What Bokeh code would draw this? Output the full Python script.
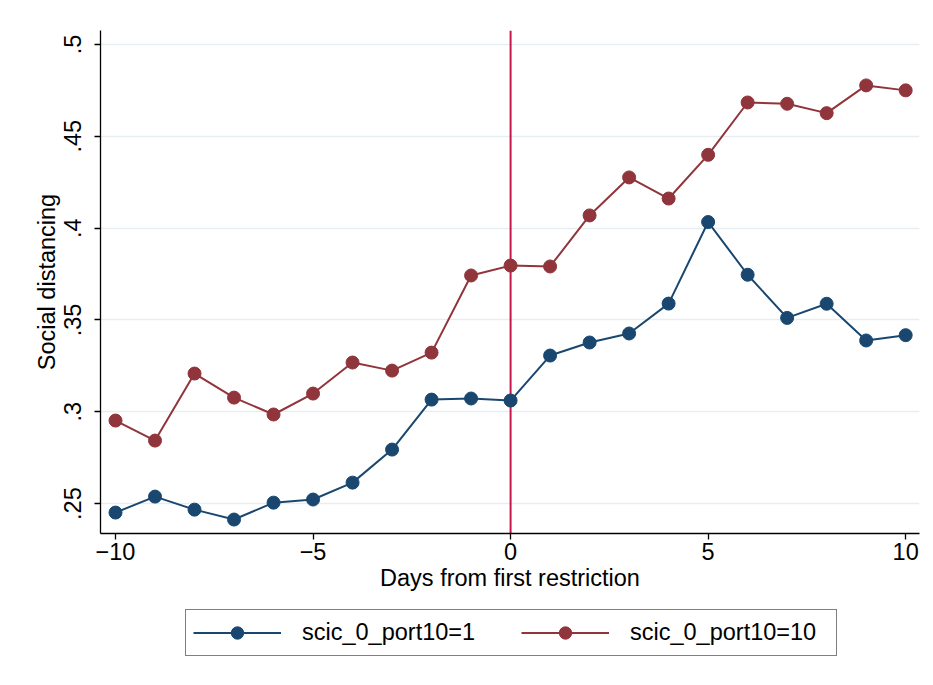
from bokeh.plotting import figure
from bokeh.layouts import column
from bokeh.models import Span, Legend, LegendItem, FixedTicker, Range1d
from bokeh.embed import file_html
from bokeh.resources import INLINE

days = list(range(-10, 11))
port1 = [0.2451, 0.2538, 0.2467, 0.2413, 0.2505, 0.2522, 0.2614, 0.2794, 0.3066, 0.3072, 0.3061,
         0.3306, 0.3377, 0.3426, 0.3589, 0.4033, 0.3746, 0.3511, 0.3588, 0.3388, 0.3417]
port10 = [0.2952, 0.2843, 0.3208, 0.3077, 0.2985, 0.3099, 0.3268, 0.3224, 0.3322, 0.3742, 0.3796,
          0.3791, 0.4069, 0.4276, 0.4161, 0.4399, 0.4684, 0.4677, 0.4626, 0.4777, 0.4750]
x_ticks = [-10, -5, 0, 5, 10]
x_tick_labels = ["\u221210", "\u22125", "0", "5", "10"]
y_ticks = [0.25, 0.3, 0.35, 0.4, 0.45, 0.5]
y_tick_labels = [".25", ".3", ".35", ".4", ".45", ".5"]
series_names = ["scic_0_port10=1", "scic_0_port10=10"]

FONT = "Liberation Sans"
FS = "23.5px"
NAVY = "#1a476f"
MAROON = "#90353b"

p = figure(width=925, height=600, output_backend="svg", toolbar_location=None,
           x_range=Range1d(-10.38, 10.35), y_range=Range1d(0.2337, 0.5076),
           min_border_left=100, min_border_top=30, min_border_right=6, min_border_bottom=67)
p.background_fill_color = "white"
p.border_fill_color = "white"
p.outline_line_color = None

p.xgrid.visible = False
p.ygrid.grid_line_color = "#e6eef1"
p.ygrid.grid_line_width = 1.5

for ax in (p.xaxis[0], p.yaxis[0]):
    ax.axis_line_color = "black"
    ax.axis_line_width = 1.3
    ax.major_tick_line_color = "black"
    ax.major_tick_line_width = 1.3
    ax.major_tick_out = 6
    ax.major_tick_in = 0
    ax.minor_tick_line_color = None
    ax.major_label_text_font = FONT
    ax.major_label_text_font_size = FS
    ax.major_label_text_color = "black"
    ax.axis_label_text_font = FONT
    ax.axis_label_text_font_size = FS
    ax.axis_label_text_font_style = "normal"
    ax.axis_label_text_color = "black"

p.xaxis.ticker = FixedTicker(ticks=x_ticks)
p.xaxis.major_label_overrides = {t: l for t, l in zip(x_ticks, x_tick_labels)}
p.xaxis.axis_label = "Days from first restriction"
p.xaxis.major_label_standoff = 3
p.xaxis.axis_label_standoff = 2

p.yaxis.ticker = FixedTicker(ticks=y_ticks)
p.yaxis.major_label_overrides = {t: l for t, l in zip(y_ticks, y_tick_labels)}
p.yaxis.major_label_orientation = "vertical"
p.yaxis.axis_label = "Social distancing"
p.yaxis.major_label_standoff = 13
p.yaxis.axis_label_standoff = 2

vline = Span(location=0, dimension="height", line_color="#c8174a", line_width=2, level="underlay")
p.add_layout(vline)

p.line(days, port1, line_color=NAVY, line_width=2)
p.scatter(days, port1, size=13, fill_color=NAVY, line_color=NAVY)
p.line(days, port10, line_color=MAROON, line_width=2)
p.scatter(days, port10, size=13, fill_color=MAROON, line_color=MAROON)

# legend panel below the plot (its renderers lie outside its visible range)
q = figure(width=925, height=77, output_backend="svg", toolbar_location=None,
           x_axis_type=None, y_axis_type=None, x_range=Range1d(100, 101), y_range=Range1d(100, 101),
           min_border_left=100, min_border_right=6, min_border_top=0, min_border_bottom=0)
q.outline_line_color = None
q.grid.visible = False
q.background_fill_color = "white"
q.border_fill_color = "white"
kl1 = q.line(days, port1, line_color=NAVY, line_width=2)
kc1 = q.scatter(days, port1, size=13, fill_color=NAVY, line_color=NAVY)
kl2 = q.line(days, port10, line_color=MAROON, line_width=2)
kc2 = q.scatter(days, port10, size=13, fill_color=MAROON, line_color=MAROON)

legend = Legend(items=[LegendItem(label=series_names[0], renderers=[kl1, kc1]),
                       LegendItem(label=series_names[1], renderers=[kl2, kc2])],
                orientation="horizontal", location=(85, 21),
                glyph_width=88, glyph_height=31, label_width=199, label_height=25,
                label_standoff=21, spacing=20, padding=7, margin=0,
                label_text_font=FONT, label_text_font_size=FS, label_text_color="black",
                border_line_color="black", border_line_width=1.3,
                background_fill_color="white", background_fill_alpha=1.0)
q.add_layout(legend, "center")

layout = column(p, q, spacing=0)
open("out.html", "w").write(file_html(layout, INLINE))
